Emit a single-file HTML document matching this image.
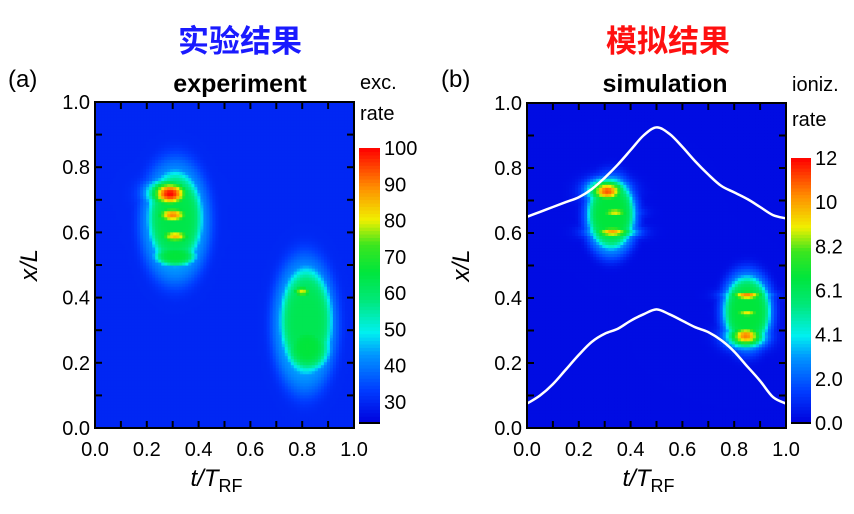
<!DOCTYPE html>
<html><head><meta charset="utf-8">
<style>
body{margin:0;background:#fff;width:854px;height:509px;overflow:hidden;font-family:"Liberation Sans",sans-serif}
svg text{font-family:"Liberation Sans","Noto Sans CJK SC",sans-serif}
</style></head>
<body>
<svg id="s" width="854" height="509" xmlns="http://www.w3.org/2000/svg">
<text x="240" y="52" text-anchor="middle" font-size="31" font-weight="bold" fill="#1a1aff">实验结果</text>
<text x="668" y="52" text-anchor="middle" font-size="31" font-weight="bold" fill="#ff1010">模拟结果</text>
<text x="8" y="87" font-size="24">(a)</text>
<text x="240" y="92" text-anchor="middle" font-size="25" font-weight="bold">experiment</text>
<text x="360" y="89" font-size="20">exc.</text>
<text x="360" y="120" font-size="20">rate</text>
<text x="441" y="87" font-size="24">(b)</text>
<text x="665" y="92" text-anchor="middle" font-size="25" font-weight="bold">simulation</text>
<text x="792" y="91" font-size="20">ioniz.</text>
<text x="792" y="126" font-size="20">rate</text>
</svg>
<script>
// Panel A (experiment) data: blob centres, extents, values (exc. rate), edge sharpness
const aT  = [0.31,0.31,0.29,0.30,0.31,0.31,0.81,0.815,0.82,0.80];
const aX  = [0.635,0.645,0.72,0.655,0.59,0.53,0.32,0.33,0.25,0.42];
const aWT = [0.14,0.11,0.075,0.07,0.07,0.085,0.13,0.105,0.09,0.045];
const aWX = [0.20,0.15,0.04,0.028,0.024,0.035,0.22,0.17,0.08,0.02];
const aV  = [45,64,100,90,85,66,45,63,66,80];
const aShape = [3,3,1,1,1,2,3,3,2,1];
const aBase = 30;
// Panel B (simulation) data
const bT  = [0.325,0.325,0.31,0.34,0.33,0.85,0.85,0.85,0.85,0.845];
const bX  = [0.655,0.66,0.73,0.665,0.605,0.36,0.36,0.41,0.355,0.285];
const bWT = [0.11,0.095,0.07,0.07,0.08,0.11,0.095,0.075,0.065,0.07];
const bWX = [0.135,0.115,0.035,0.02,0.02,0.135,0.115,0.017,0.016,0.035];
const bV  = [3.5,6.6,11,9,10,3.5,6.6,10.5,9,10.5];
const bShape = [3,3,1,1,1,3,3,1,1,1];
const bBase = 0.3;
const curveT = [0,0.05,0.1,0.15,0.2,0.25,0.3,0.35,0.4,0.45,0.5,0.55,0.6,0.65,0.7,0.75,0.8,0.85,0.9,0.95,1.0];
const upperX = [0.65,0.665,0.68,0.695,0.71,0.735,0.77,0.81,0.855,0.9,0.925,0.905,0.865,0.82,0.78,0.745,0.725,0.705,0.68,0.655,0.645];
const lowerX = [0.075,0.10,0.135,0.18,0.225,0.265,0.29,0.305,0.33,0.35,0.365,0.35,0.33,0.31,0.295,0.27,0.235,0.19,0.145,0.095,0.075];
const ticks = [0,0.2,0.4,0.6,0.8,1.0];
const cbarALabels = [100,90,80,70,60,50,40,30];
const cbarBLabels = ["12","10","8.2","6.1","4.1","2.0","0.0"];

const STOPS=[[0,0,0,220],[0.12,0,60,255],[0.25,0,150,255],[0.33,0,240,240],[0.45,0,232,120],[0.55,0,230,60],[0.65,60,230,30],[0.74,240,240,0],[0.86,255,140,0],[1,255,0,0]];
const NS="http://www.w3.org/2000/svg", svg=document.getElementById('s');
function mk(tag,attrs,parent){const e=document.createElementNS(NS,tag);for(const k in attrs)e.setAttribute(k,attrs[k]);(parent||svg).appendChild(e);return e;}
function jet(v){v=Math.max(0,Math.min(1,v));let i=0;while(i<STOPS.length-2&&v>STOPS[i+1][0])i++;const a=STOPS[i],b=STOPS[i+1],f=(v-a[0])/(b[0]-a[0]);const c=k=>Math.round(a[k]+(b[k]-a[k])*f);return `rgb(${c(1)},${c(2)},${c(3)})`;}
function field(t,x,T,X,WT,WX,V,S,base){let m=base;for(let i=0;i<T.length;i++){const d=((t-T[i])/WT[i])**2+((x-X[i])/WX[i])**2;const v=base+(V[i]-base)*Math.exp(-Math.pow(d,S[i]));if(v>m)m=v;}return m;}

function panel(id,L,R,Tp,B,T,X,WT,WX,V,S,base,vmin,vmax){
  const sx=t=>L+t*(R-L), sy=x=>B-x*(B-Tp);
  const g=mk('g',{});
  
  
  const N=86,M=108;
  for(let i=0;i<N;i++)for(let j=0;j<M;j++){
    const t=(i+0.5)/N,x=(j+0.5)/M;
    const val=field(t,x,T,X,WT,WX,V,S,base);
    const r=mk('rect',{x:sx(i/N).toFixed(2),y:sy((j+1)/M).toFixed(2),width:((R-L)/N+0.6).toFixed(2),height:((B-Tp)/M+0.6).toFixed(2),fill:jet((val-vmin)/(vmax-vmin))},g);
    
    
  }
  return {sx,sy};
}
function axes(id,L,R,Tp,B){
  const sx=t=>L+t*(R-L), sy=x=>B-x*(B-Tp);
  const f=mk('rect',{x:L,y:Tp,width:R-L,height:B-Tp,fill:'none',stroke:'#000','stroke-width':2});
  
  
  for(let k=0;k<=10;k++){const v=k/10;
    mk('line',{x1:sx(v),x2:sx(v),y1:B,y2:B-7,stroke:'#000','stroke-width':2});
    mk('line',{x1:sx(v),x2:sx(v),y1:Tp,y2:Tp+7,stroke:'#000','stroke-width':2});
    mk('line',{x1:L,x2:L+7,y1:sy(v),y2:sy(v),stroke:'#000','stroke-width':2});
    mk('line',{x1:R,x2:R-7,y1:sy(v),y2:sy(v),stroke:'#000','stroke-width':2});
  }
  ticks.forEach(v=>{
    const a=mk('text',{x:sx(v),y:B+28,'text-anchor':'middle','font-size':20});a.textContent=v.toFixed(1);
    
    
    const b=mk('text',{x:L-5,y:sy(v)+7,'text-anchor':'end','font-size':20});b.textContent=v.toFixed(1);
    
    
  });
  const xt=mk('text',{x:(L+R)/2-8,y:B+58,'text-anchor':'middle','font-size':24,'font-style':'italic'});
  xt.innerHTML='t/T<tspan font-size="18" font-style="normal" dy="6">RF</tspan>';
  
  
  const yt=mk('text',{x:0,y:0,'text-anchor':'middle','font-size':24,'font-style':'italic',transform:`translate(${L-58},${(Tp+B)/2}) rotate(-90)`});
  yt.textContent='x/L';
  
  
}
function cbar(id,L,R,Tp,B,labels,vTop,vBot,vmin,vmax,lblTop,lblBot){
  const n=80;
  for(let k=0;k<n;k++){const v=vBot+(vTop-vBot)*(k+0.5)/n;
    const r=mk('rect',{x:L,y:B-(k+1)*(B-Tp)/n,width:R-L,height:(B-Tp)/n+0.6,fill:jet((v-vmin)/(vmax-vmin))});
    
    
  }
  mk('line',{x1:L,x2:R,y1:B,y2:B,stroke:'#000','stroke-width':2});
  labels.forEach((s,i)=>{const y=lblTop+i*(lblBot-lblTop)/(labels.length-1);
    const t=mk('text',{x:R+4,y:y+7,'font-size':20});t.textContent=s;
    
    });
}
// Panel A
panel('exp',95,354,102,428,aT,aX,aWT,aWX,aV,aShape,aBase,24,100);
axes('exp',95,354,102,428);
cbar('cbar-a',359,380,148,423,cbarALabels,100,24,24,100,148,402);
// Panel B
const pb=panel('sim',527,786,103,428,bT,bX,bWT,bWX,bV,bShape,bBase,0,12);
function curve(arrX,name){
  const P=curveT.map((t,i)=>[pb.sx(t),pb.sy(arrX[i])]);
  let d='M'+P[0][0].toFixed(1)+','+P[0][1].toFixed(1);
  for(let i=0;i<P.length-1;i++){
    const p0=P[Math.max(0,i-1)],p1=P[i],p2=P[i+1],p3=P[Math.min(P.length-1,i+2)];
    const c1=[p1[0]+(p2[0]-p0[0])/6,p1[1]+(p2[1]-p0[1])/6],c2=[p2[0]-(p3[0]-p1[0])/6,p2[1]-(p3[1]-p1[1])/6];
    d+=` C${c1[0].toFixed(1)},${c1[1].toFixed(1)} ${c2[0].toFixed(1)},${c2[1].toFixed(1)} ${p2[0].toFixed(1)},${p2[1].toFixed(1)}`;
  }
  const p=mk('path',{d,fill:'none',stroke:'#fff','stroke-width':2.5,'stroke-linejoin':'round'});
  
  
}
curve(upperX,'upper-sheath-edge');
curve(lowerX,'lower-sheath-edge');
axes('sim',527,786,103,428);
cbar('cbar-b',791,811,158,423,cbarBLabels,12,0,0,12,158,423);
</script>
</body></html>
